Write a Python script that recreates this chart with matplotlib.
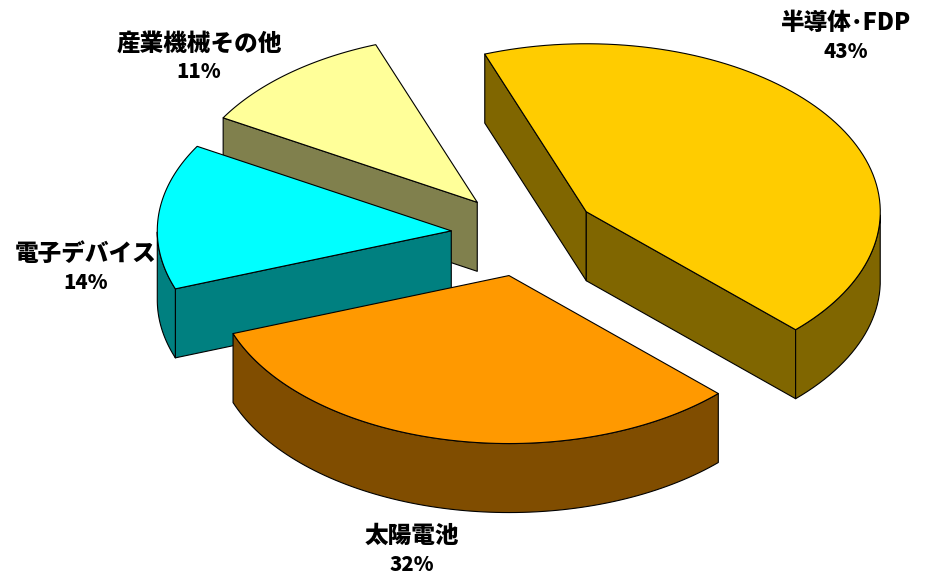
"""3D exploded pie: share by application (hand projected, matplotlib has no 3D pie)."""
import numpy as np
import matplotlib
matplotlib.use("Agg")
import matplotlib.pyplot as plt
from matplotlib.colors import to_rgb
from matplotlib.patches import Polygon

plt.rcParams["font.family"] = ["Noto Sans CJK JP", "DejaVu Sans"]

labels = ["半導体･FDP", "太陽電池", "電子デバイス", "産業機械その他"]
values = [43, 32, 14, 11]
colors = ["#FFCC00", "#FF9900", "#00FFFF", "#FFFF99"]
label_pos = [(846, 23), (412, 536), (86, 254), (199, 43)]

# projection of the pie, in pixels
CX, CY = 524.5, 234.5
RX, RY = 294, 168
DEPTH = 69
EXPLODE = 0.25
START = 110.2


def pt(ang, r=1.0, ox=0.0, oy=0.0):
    a = np.radians(ang)
    return np.column_stack([ox + r * RX * np.cos(a), oy - r * RY * np.sin(a)])


def poly(ax, xy, color, z):
    ax.add_patch(Polygon(xy, closed=True, fc=color, ec="black", lw=0.8,
                         joinstyle="round", zorder=z))


fig = plt.figure(figsize=(9.34, 5.75), dpi=100)
ax = fig.add_axes([0, 0, 1, 1])
ax.set_xlim(0, 934)
ax.set_ylim(575, 0)
ax.axis("off")

total = sum(values)
edges = START - np.cumsum([0] + values) * 360.0 / total
shift = np.array([0, DEPTH])

wedges = []
for i, col in enumerate(colors):
    a1, a2 = edges[i], edges[i + 1]
    tip = pt((a1 + a2) / 2, EXPLODE, CX, CY)[0]
    wedges.append((tip[1], i, a1, a2, tip, col))

# back to front
for z, (_, i, a1, a2, tip, col) in enumerate(sorted(wedges, key=lambda w: w[0])):
    side = tuple(c * 0.5 for c in to_rgb(col))
    base = 10 * (z + 1)
    p1 = pt(a1, 1, *tip)[0]
    p2 = pt(a2, 1, *tip)[0]

    # cut faces, only those turned to the viewer
    for s, e in [(tip, p1), (p2, tip)]:
        if e[0] < s[0]:
            poly(ax, [s, e, e + shift, s + shift], side, base)

    # outer rim, lower half of the ellipse only
    arc = np.linspace(a1, a2, 90)
    low = arc[np.sin(np.radians(arc)) <= 0]
    if len(low) > 1:
        top = pt(low, 1, *tip)
        poly(ax, np.vstack([top, (top + shift)[::-1]]), side, base + 1)

    poly(ax, np.vstack([tip, pt(arc, 1, *tip)]), col, base + 2)

for name, v, (x, y) in zip(labels, values, label_pos):
    ax.text(x, y, name, fontsize=17, fontweight=900, ha="center", va="center")
    ax.text(x, y + 29, f"{v}%", fontsize=14.5, fontweight=900, ha="center", va="center")

fig.savefig("out.png", dpi=100)
print("[OK] out.png")
